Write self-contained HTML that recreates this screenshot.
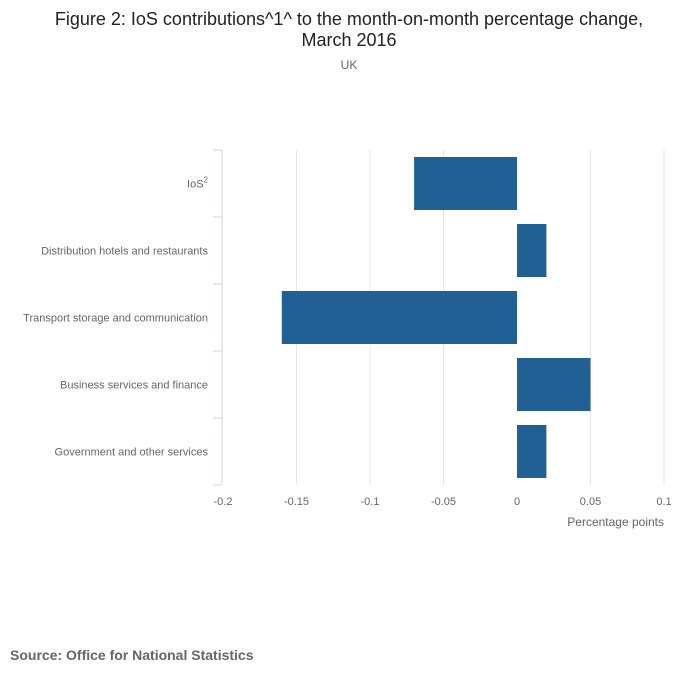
<!DOCTYPE html>
<html><head><meta charset="utf-8">
<style>
body{margin:0;background:#fff;width:700px;height:682px;overflow:hidden;font-family:"Liberation Sans",sans-serif;}
</style></head>
<body>
<svg id="chart" width="700" height="682" xmlns="http://www.w3.org/2000/svg">
<text x="349" y="25" text-anchor="middle" font-size="18" fill="#222">Figure 2: IoS contributions^1^ to the month-on-month percentage change,</text>
<text x="349" y="46" text-anchor="middle" font-size="18" fill="#222">March 2016</text>
<text x="349" y="69" text-anchor="middle" font-size="12" fill="#666">UK</text>
<text x="664" y="526" text-anchor="end" font-size="12" fill="#666">Percentage points</text>
<text x="10" y="660" font-size="14" font-weight="bold" fill="#666">Source: Office for National Statistics</text>
<g id="plot"></g>
</svg>
<script>
const categories=["IoS","Distribution hotels and restaurants","Transport storage and communication","Business services and finance","Government and other services"];
const values=[-0.07,0.02,-0.16,0.05,0.02];
const ticks=[-0.2,-0.15,-0.1,-0.05,0,0.05,0.1];
const tickLabels=["-0.2","-0.15","-0.1","-0.05","0","0.05","0.1"];
const NS="http://www.w3.org/2000/svg";
const g=document.getElementById('plot');
const x0=223,x1=664,dmin=-0.2,dmax=0.1,plotTop=150,plotBot=485;
const xs=v=>x0+(v-dmin)/(dmax-dmin)*(x1-x0);
const band=(plotBot-plotTop)/categories.length;
function mk(t,a){const e=document.createElementNS(NS,t);for(const k in a)e.setAttribute(k,a[k]);g.appendChild(e);return e;}
ticks.forEach((t,i)=>{
  if(t!==dmin&&t!==0){const l=mk('line',{x1:xs(t),x2:xs(t),y1:plotTop,y2:plotBot,stroke:'#e6e6e6','stroke-width':1});
  
  }
  const tx=mk('text',{x:xs(t),y:505,'text-anchor':'middle','font-size':11,fill:'#666'});
  tx.textContent=tickLabels[i];
  
  
});
const ax=mk('line',{x1:222,x2:222,y1:plotTop,y2:plotBot,stroke:'#ccd6eb','stroke-width':1});


for(let i=0;i<=categories.length;i++){
  const y=plotTop+i*band;
  const tk=mk('line',{x1:213,x2:222,y1:y,y2:y,stroke:'#ccd6eb','stroke-width':1});
  
  
}
categories.forEach((c,i)=>{
  const yc=plotTop+(i+0.5)*band;
  const tx=mk('text',{x:208,y:yc+4,'text-anchor':'end','font-size':11,fill:'#666'});
  tx.textContent=c;
  if(i===0){const s=document.createElementNS(NS,'tspan');s.setAttribute('dy','-5');s.setAttribute('font-size','8');s.textContent='2';tx.appendChild(s);}
  
  
  const v=values[i];
  const a=xs(Math.min(0,v)),b=xs(Math.max(0,v));
  const r=mk('rect',{x:a,y:plotTop+i*band+7,width:b-a,height:band-14,fill:'#206095'});
  
  
});
</script>
</body></html>
